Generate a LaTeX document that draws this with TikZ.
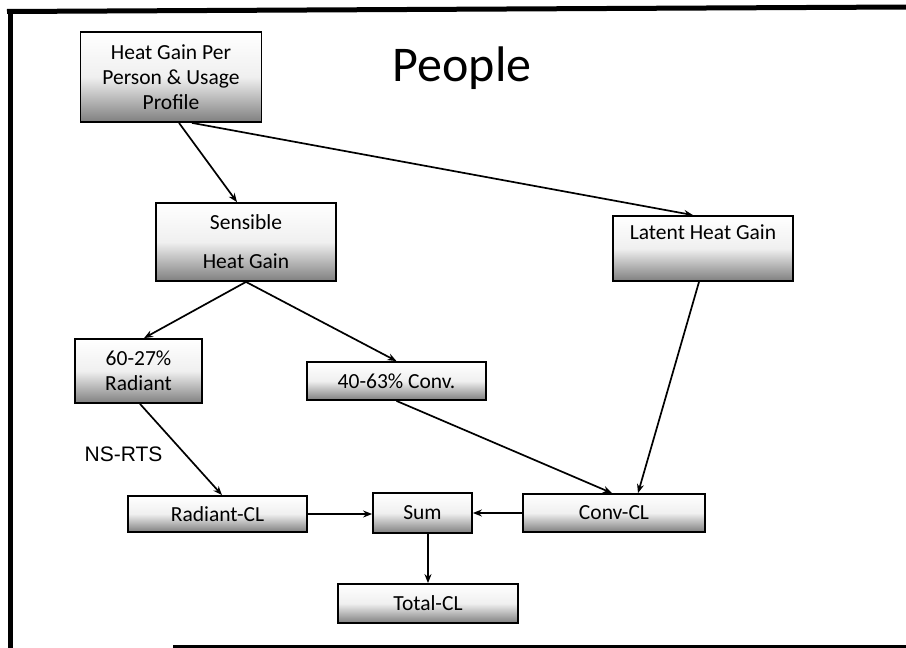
\documentclass[tikz,border=0pt]{standalone}
\usepackage{fontspec}
\setmainfont{Carlito}
\newfontfamily\arialfont{Liberation Sans}
\usetikzlibrary{arrows.meta}
\tikzset{
  box/.style={draw=black, line width=1.8pt, top color=white, bottom color=black!50,
    middle color=black!6, inner sep=0pt, align=center,
    font=\fontsize{21.5}{25}\selectfont},
  conn/.style={line width=1.7pt, -{Stealth[length=9pt,width=7pt]}},
  frameline/.style={line width=5pt}
}
\begin{document}
\begin{tikzpicture}[x=1pt,y=-1pt]
\useasboundingbox (0,0) rectangle (906,648);
% frame
\draw[frameline] (7,11.5) -- (906,7);
\draw[frameline] (10,9) -- (10,648);
\draw[line width=3pt] (173,646.5) -- (906,646.5);
% title
\node[font=\fontsize{50}{56}\selectfont] (title) at (462,68) {People};
% boxes
\node[box, minimum width=181pt, minimum height=90pt] (b1) at (171,77)
  {Heat Gain Per\\Person \& Usage\\Profile};
\node[box, minimum width=180pt, minimum height=78pt, font=\fontsize{21.5}{39}\selectfont] (sens) at (246,242)
  {Sensible\\Heat Gain};
\node[box, minimum width=180pt, minimum height=65pt, text height=23pt, text depth=42pt] (lat) at (703,248.5)
  {Latent Heat Gain};
\node[box, minimum width=127pt, minimum height=64pt] (rad) at (138.5,371)
  {60-27\%\\Radiant};
\node[box, minimum width=179pt, minimum height=38pt] (conv) at (396.5,381)
  {40-63\% Conv.};
\node[box, minimum width=179pt, minimum height=36pt] (radcl) at (217.5,514)
  {Radiant-CL};
\node[box, minimum width=99pt, minimum height=40pt] (sum) at (422.5,513)
  {Sum};
\node[box, minimum width=182pt, minimum height=38pt] (convcl) at (614,513)
  {Conv-CL};
\node[box, minimum width=180pt, minimum height=39pt] (tot) at (428,603.5)
  {Total-CL};
% label
\node[font=\arialfont\fontsize{21}{25}\selectfont] (nsrts) at (123.5,454) {NS-RTS};
% connectors
\draw[conn] ([xshift=8pt]b1.south) -- ([xshift=-9pt]sens.north);
\draw[conn] ([xshift=21pt]b1.south) -- ([xshift=-10pt]lat.north);
\draw[conn] (sens.south) -- ([xshift=5.5pt]rad.north);
\draw[conn] (sens.south) -- (conv.north);
\draw[conn] ([xshift=1.5pt]rad.south) -- ([xshift=4.5pt]radcl.north);
\draw[conn] (conv.south) -- ([xshift=-2pt]convcl.north);
\draw[conn] ([xshift=-4pt]lat.south) -- ([xshift=24pt]convcl.north);
\draw[conn] (radcl.east) -- (radcl.east -| sum.west);
\draw[conn] (convcl.west) -- (convcl.west -| sum.east);
\draw[conn] ([xshift=5.5pt]sum.south) -- (tot.north);
\end{tikzpicture}
\end{document}
